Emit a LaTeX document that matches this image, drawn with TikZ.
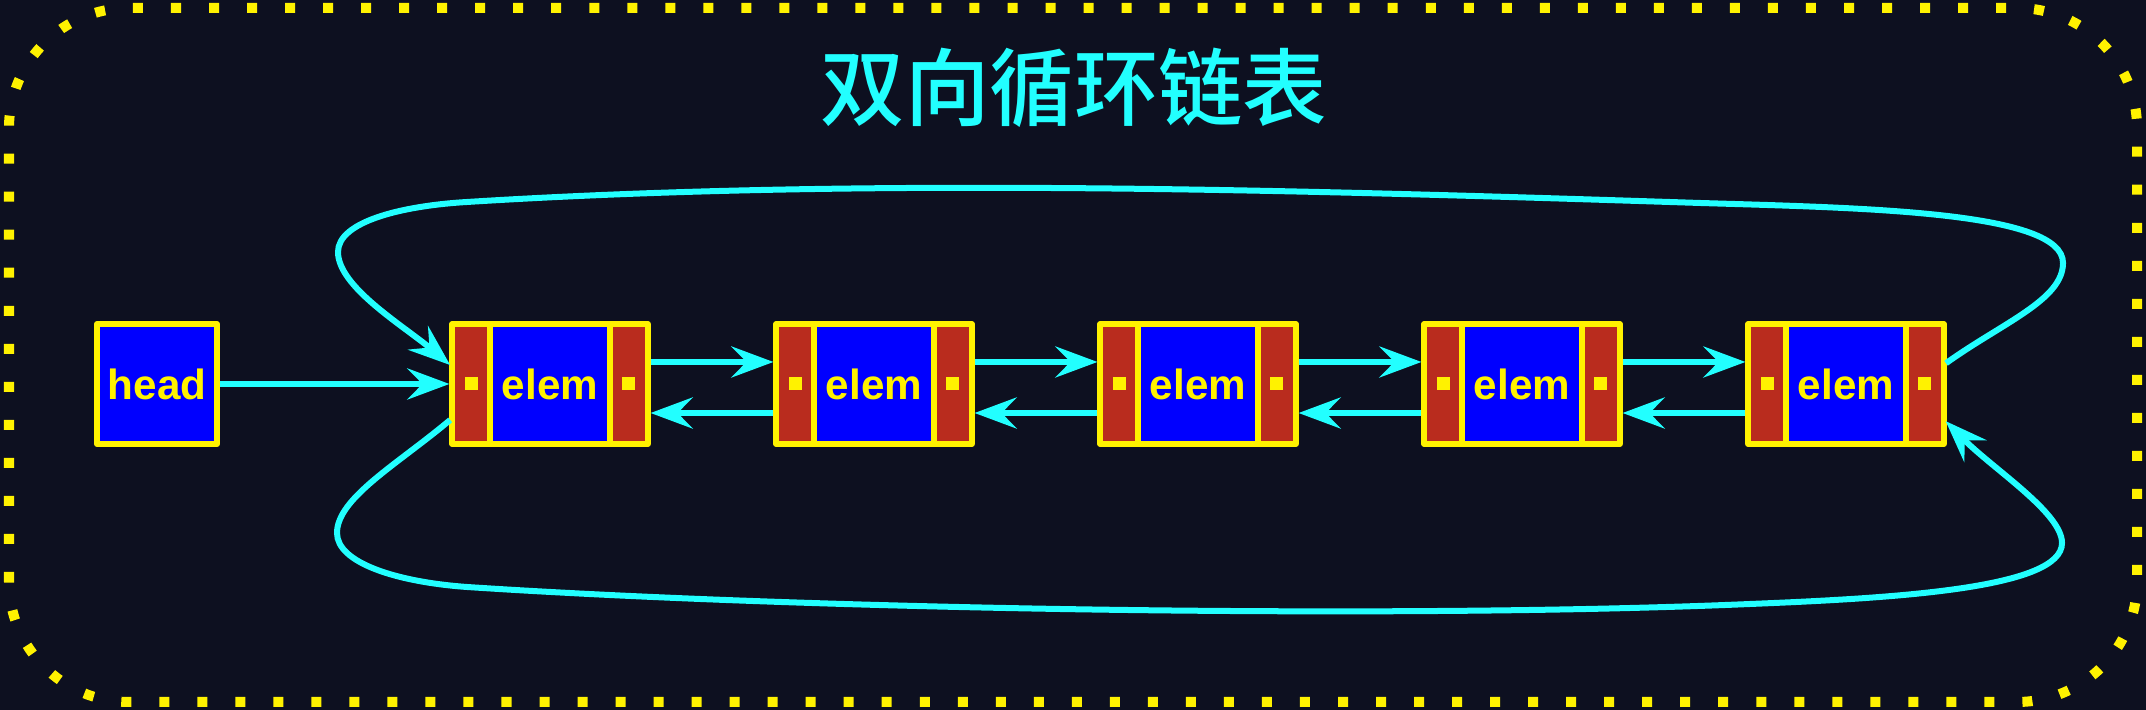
\documentclass[tikz,border=0pt]{standalone}
\usepackage{fontspec}
\setmainfont{Liberation Sans}
\newfontfamily\cjk{Noto Sans CJK SC Medium}
\usetikzlibrary{positioning,arrows.meta}

\definecolor{bgdark}{HTML}{0D1020}
\definecolor{linkcyan}{HTML}{22FFFF}
\definecolor{ptrred}{HTML}{B92C1E}
\definecolor{datablue}{HTML}{0000FF}

\begin{document}
\begin{tikzpicture}[x=0.01cm, y=0.01cm,
    >={Stealth[length=4.2mm,width=3.1mm,inset=1.5mm]},
    box/.style={draw=yellow, line width=0.06cm, fill=datablue, text=yellow,
      font=\fontsize{12}{14}\selectfont\bfseries, minimum width=1.2cm,
      minimum height=1.2cm, inner sep=0pt, outer sep=0pt, line join=round},
    ptr/.style={draw=yellow, line width=0.06cm, fill=ptrred,
      minimum width=0.375cm, minimum height=1.2cm, inner sep=0pt,
      outer sep=0pt, line join=round,
      path picture={\fill[yellow] ([shift={(-0.065cm,-0.065cm)}]path picture bounding box.center) rectangle +(0.13cm,0.13cm);}},
    link/.style={draw=linkcyan, line width=0.06cm,
      shorten >=0.03cm, shorten <=0.03cm}]
    \path [use as bounding box, fill=bgdark] (0,0) rectangle (2146,710);
    \draw [yellow, line width=0.1cm, dash pattern=on 0.1cm off 0.28cm,
      rounded corners=1.2cm] (9,8) rectangle (2137,702);

    \node [text=linkcyan, font=\cjk\fontsize{24}{28}\selectfont] (title) at (1074,622) {双向循环链表};

    \node [box] (head) at (157,326) {head};

    \node [box] (e1) at (550,326) {elem};
    \node [ptr, left=0pt of e1] (e1l) {};
    \node [ptr, right=0pt of e1] (e1r) {};

    \node [box] (e2) at (874,326) {elem};
    \node [ptr, left=0pt of e2] (e2l) {};
    \node [ptr, right=0pt of e2] (e2r) {};

    \node [box] (e3) at (1198,326) {elem};
    \node [ptr, left=0pt of e3] (e3l) {};
    \node [ptr, right=0pt of e3] (e3r) {};

    \node [box] (e4) at (1522,326) {elem};
    \node [ptr, left=0pt of e4] (e4l) {};
    \node [ptr, right=0pt of e4] (e4r) {};

    \node [box] (e5) at (1846,326) {elem};
    \node [ptr, left=0pt of e5] (e5l) {};
    \node [ptr, right=0pt of e5] (e5r) {};

    \draw [link,->] (head.east) -- (e1l.west);

    \draw [link,->] ([yshift=2.2mm]e1r.east) -- ([yshift=2.2mm]e2l.west);
    \draw [link,->] ([yshift=-2.9mm]e2l.west) -- ([yshift=-2.9mm]e1r.east);
    \draw [link,->] ([yshift=2.2mm]e2r.east) -- ([yshift=2.2mm]e3l.west);
    \draw [link,->] ([yshift=-2.9mm]e3l.west) -- ([yshift=-2.9mm]e2r.east);
    \draw [link,->] ([yshift=2.2mm]e3r.east) -- ([yshift=2.2mm]e4l.west);
    \draw [link,->] ([yshift=-2.9mm]e4l.west) -- ([yshift=-2.9mm]e3r.east);
    \draw [link,->] ([yshift=2.2mm]e4r.east) -- ([yshift=2.2mm]e5l.west);
    \draw [link,->] ([yshift=-2.9mm]e5l.west) -- ([yshift=-2.9mm]e4r.east);

    % last back to first, over the top
    \draw [link,->] ([yshift=1.9mm]e5r.east) .. controls (2002,387) and (2063,410) .. (2063,447)
      .. controls (2063,498) and (1870,502) .. (1700,507)
      .. controls (1300,520) and (867,533) .. (467,508)
      .. controls (400,504) and (338,488) .. (338,458)
      .. controls (338,423) and (404,384) .. ([yshift=1.7mm]e1l.west);

    % first back to last, under the bottom
    \draw [link,->] ([yshift=-3.4mm]e1l.west) .. controls (398,246) and (337,212) .. (337,177)
      .. controls (337,147) and (397,128) .. (467,123)
      .. controls (817,100) and (1400,91) .. (1750,106)
      .. controls (1900,112) and (2062,122) .. (2062,167)
      .. controls (2062,197) and (1993,241) .. ([yshift=-3.5mm]e5r.east);
\end{tikzpicture}
\end{document}
